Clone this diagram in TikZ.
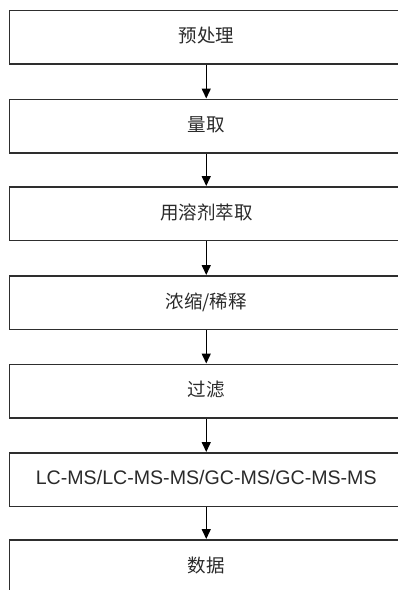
\documentclass[tikz,border=0pt]{standalone}
\usepackage{fontspec}
\setmainfont{Liberation Sans}
\newfontfamily\cjk{Noto Sans CJK SC}
\usetikzlibrary{arrows.meta}
\definecolor{edge}{HTML}{2E2E2E}
\definecolor{ink}{HTML}{2A2A2A}
\tikzset{
  stepbox/.style={draw=edge, line width=1.6pt, minimum width=393.5pt, minimum height=53.5pt, inner sep=0pt, text=ink, anchor=north},
  cjktext/.style={font=\cjk\fontsize{18.5}{22}\selectfont},
  latintext/.style={font=\fontsize{19.6}{22}\selectfont},
  flow/.style={draw=black, line width=1.5pt, -{Triangle[width=9pt,length=10pt]}}
}
\begin{document}
\begin{tikzpicture}[x=1pt,y=-1pt]
\useasboundingbox (0,0) rectangle (397,590);
\node[stepbox, cjktext]   (b1) at (206.25,9.5)   {\raisebox{4pt}{预处理}};
\node[stepbox, cjktext]   (b2) at (206.25,98.5)  {\raisebox{4pt}{量取}};
\node[stepbox, cjktext]   (b3) at (206.25,186)   {\raisebox{4pt}{用溶剂萃取}};
\node[stepbox, cjktext]   (b4) at (206.25,275)   {\raisebox{4pt}{浓缩/稀释}};
\node[stepbox, cjktext]   (b5) at (206.25,363.5) {\raisebox{4pt}{过滤}};
\node[stepbox, latintext] (b6) at (206.25,452)   {\raisebox{4pt}{LC-MS/LC-MS-MS/GC-MS/GC-MS-MS}};
\node[stepbox, cjktext]   (b7) at (206.25,539)   {\raisebox{4pt}{数据}};
\foreach \a/\b in {b1/b2,b2/b3,b3/b4,b4/b5,b5/b6,b6/b7}
  \draw[flow] (\a.south) -- (\b.north);
\end{tikzpicture}
\end{document}
